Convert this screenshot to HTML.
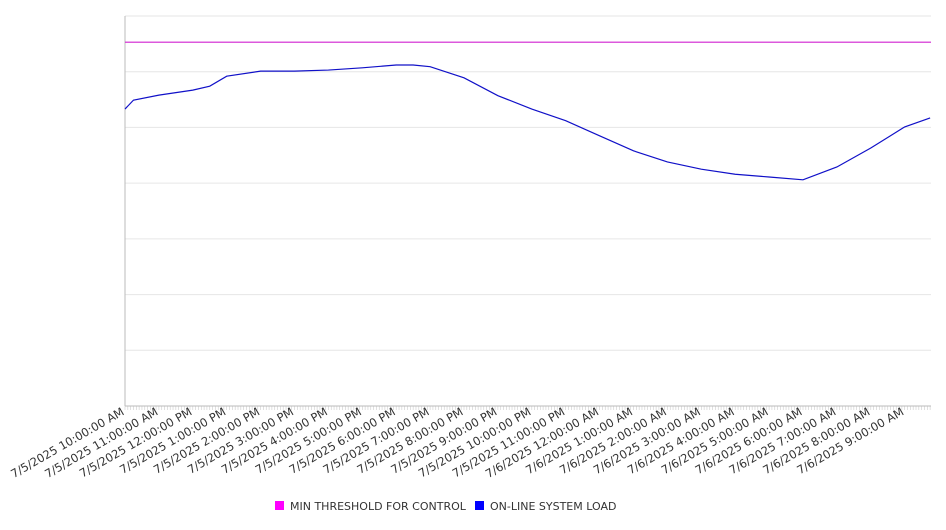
<!DOCTYPE html>
<html><head><meta charset="utf-8"><style>
body{margin:0;background:#fff;font-family:"DejaVu Sans","Liberation Sans",sans-serif}
</style></head><body>
<svg id="c" width="946" height="526" xmlns="http://www.w3.org/2000/svg"></svg>
<script>
const hourLabels=["7/5/2025 10:00:00 AM","7/5/2025 11:00:00 AM","7/5/2025 12:00:00 PM","7/5/2025 1:00:00 PM","7/5/2025 2:00:00 PM","7/5/2025 3:00:00 PM","7/5/2025 4:00:00 PM","7/5/2025 5:00:00 PM","7/5/2025 6:00:00 PM","7/5/2025 7:00:00 PM","7/5/2025 8:00:00 PM","7/5/2025 9:00:00 PM","7/5/2025 10:00:00 PM","7/5/2025 11:00:00 PM","7/6/2025 12:00:00 AM","7/6/2025 1:00:00 AM","7/6/2025 2:00:00 AM","7/6/2025 3:00:00 AM","7/6/2025 4:00:00 AM","7/6/2025 5:00:00 AM","7/6/2025 6:00:00 AM","7/6/2025 7:00:00 AM","7/6/2025 8:00:00 AM","7/6/2025 9:00:00 AM"];
const loadHours=[0,0.25,1,2,2.5,3,4,5,6,7,8,8.5,9,10,11,12,13,14,15,16,17,18,19,20,21,22,23,23.75];
const loadValues=[533,549,558,567,574,592,601,601,603,607,612,612,609,589,557,533,512,485,458,438,425,416,411,406,429,463,501,517];
const thresholdValue=653;
const yGrid=[0,100,200,300,400,500,600,700];
const NS="http://www.w3.org/2000/svg",svg=document.getElementById('c');
const X0=125,X1=931,PX=33.9,Y0=406,Y1=16,VMAX=700;
const x=h=>X0+h*PX, y=v=>Y0-(v/VMAX)*(Y0-Y1);
function mk(t,a,p){const e=document.createElementNS(NS,t);for(const k in a)e.setAttribute(k,a[k]);(p||svg).appendChild(e);return e;}
yGrid.forEach(v=>{const l=mk('line',{x1:X0,x2:X1,y1:y(v),y2:y(v),stroke:'#e6e6e6'});

});
const ax=mk('line',{x1:X0,x2:X0,y1:Y1,y2:Y0,stroke:'#bbb'});


for(let m=0;m<=X1-X0;m+=PX/12){const t=mk('line',{x1:X0+m,x2:X0+m,y1:Y0,y2:Y0+4,stroke:'#ccc','stroke-width':0.6});

}
const xa=mk('line',{x1:X0,x2:X1,y1:Y0,y2:Y0,stroke:'#bbb'});


hourLabels.forEach((s,i)=>{const tx=x(i),t=mk('text',{x:tx,y:414,'font-size':11.5,fill:'#333','text-anchor':'end',transform:`rotate(-30 ${tx} 414)`});t.textContent=s;

});
const th=mk('line',{x1:X0,x2:X1,y1:y(thresholdValue),y2:y(thresholdValue),stroke:'#d020d0','stroke-width':1.2});


const pl=mk('polyline',{points:loadHours.map((h,i)=>x(h)+','+y(loadValues[i])).join(' '),fill:'none',stroke:'#1010c8','stroke-width':1.2});


const lg=mk('g',{});


const r1=mk('rect',{x:275,y:501,width:9,height:9,fill:'#f0f'},lg);


const t1=mk('text',{x:290,y:510,'font-size':11,fill:'#333'},lg);t1.textContent='MIN THRESHOLD FOR CONTROL';


const r2=mk('rect',{x:475,y:501,width:9,height:9,fill:'#00f'},lg);


const t2=mk('text',{x:490,y:510,'font-size':11,fill:'#333'},lg);t2.textContent='ON-LINE SYSTEM LOAD';


</script>
</body></html>
